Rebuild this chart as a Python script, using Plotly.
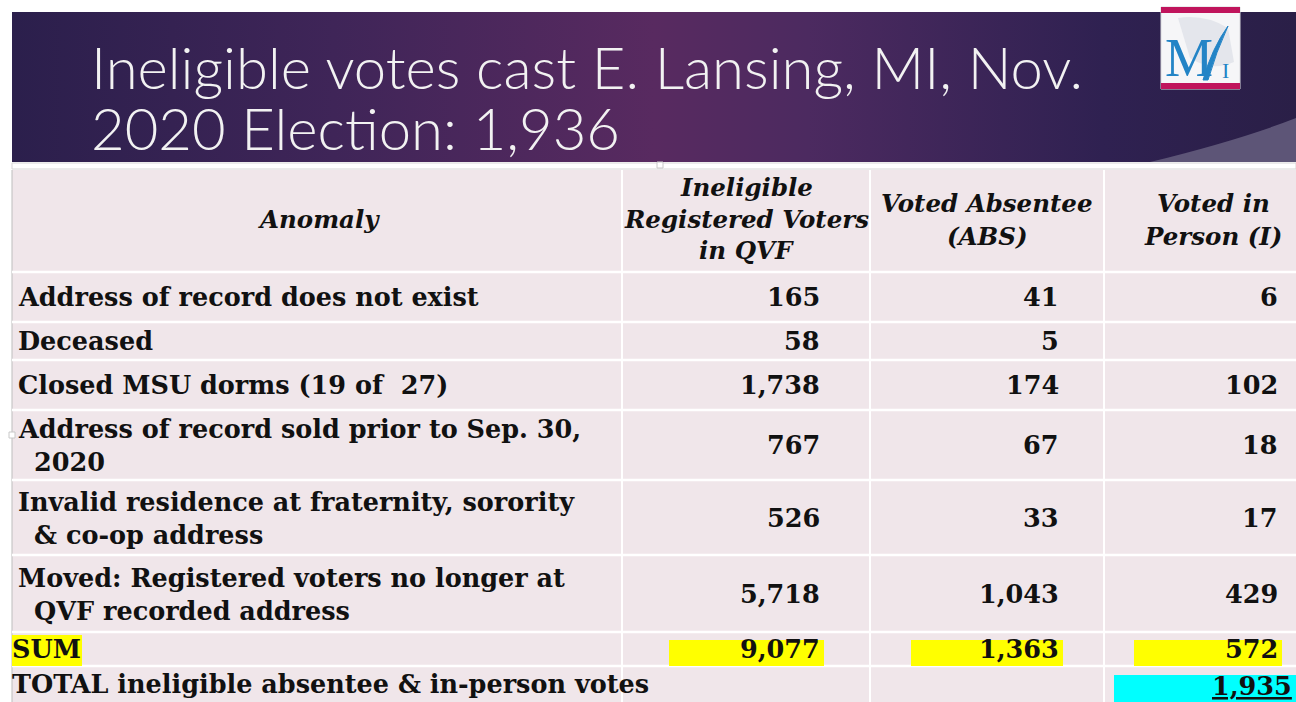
import plotly.graph_objects as go

# ---------------- data ----------------
title_lines = ["Ineligible votes cast E. Lansing, MI, Nov.", "2020 Election: 1,936"]
headers = [["Anomaly"], ["Ineligible", "Registered Voters", "in QVF"],
           ["Voted Absentee", "(ABS)"], ["Voted in", "Person (I)"]]
anomalies = [
    ["Address of record does not exist"],
    ["Deceased"],
    ["Closed MSU dorms (19 of  27)"],
    ["Address of record sold prior to Sep. 30,", "2020"],
    ["Invalid residence at fraternity, sorority", "& co-op address"],
    ["Moved: Registered voters no longer at", "QVF recorded address"],
]
qvf = [165, 58, 1738, 767, 526, 5718]
absentee = [41, 5, 174, 67, 33, 1043]
in_person = [6, None, 102, 18, 17, 429]
sum_label = "SUM"
sums = [9077, 1363, 572]
total_label = "TOTAL ineligible absentee & in-person votes"
total_value = 1935

# ---------------- layout constants ----------------
W, H = 1296, 702
col_edges = [12, 622, 870, 1104, 1310]
row_edges = [170, 272, 322, 360, 410, 480, 555, 632, 666, 710]
num_right = [822, 1061, 1280]
TABLE_BG = "#f0e6ea"
SERIF = "DejaVu Serif"
FS = 25.5

fig = go.Figure()
shapes = []
ann = []

# banner with gradient
fig.add_trace(go.Scatter(
    x=[12, W, W, 12, 12], y=[12, 12, 162, 162, 12], mode="lines",
    line=dict(width=0), fill="toself",
    fillgradient=dict(type="horizontal", colorscale=[
        [0.0, "#2b1f4c"], [0.25, "#3f2558"], [0.5, "#582a60"],
        [0.62, "#4c2a60"], [0.85, "#2f2151"], [1.0, "#2a1f47"]]),
    hoverinfo="skip", showlegend=False))
# light swoosh bottom right
shapes.append(dict(type="path", path="M 1150 162 Q 1240 140 1296 118 L 1296 162 Z",
                   fillcolor="#5d5577", line=dict(width=0), layer="above"))

for i, t in enumerate(title_lines):
    ann.append(dict(x=89, y=[66, 127][i], text=t, xanchor="left", yanchor="middle",
                    showarrow=False,
                    font=dict(family="Lato", size=58, color="#f2f2f2", weight=300)))

# logo
shapes.append(dict(type="rect", x0=1161, x1=1240, y0=7, y1=89, fillcolor="#f6f6f8",
                   line=dict(color="#d8d8dc", width=1)))
shapes.append(dict(type="path", path="M 1178 18 Q 1205 14 1228 28 L 1234 62 Q 1212 72 1190 58 Z",
                   fillcolor="#e4e6ec", line=dict(width=0)))
shapes.append(dict(type="rect", x0=1161, x1=1240, y0=7, y1=13, fillcolor="#c0145c", line=dict(width=0)))
shapes.append(dict(type="rect", x0=1161, x1=1240, y0=83, y1=89, fillcolor="#c0145c", line=dict(width=0)))
ann.append(dict(x=1189, y=58, text="M", showarrow=False, xanchor="center", yanchor="middle",
                font=dict(family="Liberation Serif", size=54, color="#2384c6")))
ann.append(dict(x=1225, y=70, text="I", showarrow=False, xanchor="center", yanchor="middle",
                font=dict(family="Liberation Serif", size=22, color="#2384c6")))
shapes.append(dict(type="path", path="M 1203 80 Q 1212 48 1228 26 Q 1216 52 1208 80 Z",
                   fillcolor="#2384c6", line=dict(color="#2384c6", width=1)))
fig.add_trace(go.Scatter(x=[1229], y=[22], mode="markers",
                         marker=dict(symbol="star", size=12, color="#2384c6"),
                         hoverinfo="skip", showlegend=False))

# separator under banner
shapes.append(dict(type="rect", x0=12, x1=W, y0=163, y1=169, fillcolor="#ffffff",
                   line=dict(color="#d6d6d6", width=1)))

# table background
shapes.append(dict(type="rect", x0=col_edges[0], x1=col_edges[-1], y0=row_edges[0], y1=row_edges[-1],
                   fillcolor=TABLE_BG, line=dict(width=0), layer="below"))
shapes.append(dict(type="line", x0=12, x1=12, y0=170, y1=702, line=dict(color="#bdbdbd", width=1)))
# grid lines
for x in col_edges[1:-1]:
    shapes.append(dict(type="line", x0=x, x1=x, y0=row_edges[0], y1=row_edges[-1],
                       line=dict(color="#ffffff", width=2)))
for y in row_edges[1:-1]:
    shapes.append(dict(type="line", x0=col_edges[0], x1=col_edges[-1], y0=y, y1=y,
                       line=dict(color="#ffffff", width=2.5)))
# small selection handles
for hx, hy in [(660, 165), (12, 435)]:
    shapes.append(dict(type="rect", x0=hx - 3, x1=hx + 3, y0=hy - 3, y1=hy + 3,
                       fillcolor="#ffffff", line=dict(color="#c8c8c8", width=1)))

# headers
hdr_font = dict(family=SERIF, size=24.5, color="#111111", weight="bold", style="italic")
head_y = {1: [219], 3: [187, 219, 250], 2: [203, 236]}
for c, lines in enumerate(headers):
    cx = (col_edges[c] + col_edges[c + 1]) / 2 if c < 3 else 1213
    if c == 0:
        cx = 319
    ys = head_y[len(lines)]
    for ln, y in zip(lines, ys):
        ann.append(dict(x=cx, y=y, text=ln, showarrow=False, xanchor="center", yanchor="middle",
                        font=hdr_font))

body_font = dict(family=SERIF, size=FS, color="#111111", weight="bold")
for r, lines in enumerate(anomalies):
    y0, y1 = row_edges[r + 1], row_edges[r + 2]
    cy = (y0 + y1) / 2
    if len(lines) == 1:
        ann.append(dict(x=16, y=cy, text=lines[0], showarrow=False, xanchor="left",
                        yanchor="middle", font=body_font))
    else:
        ann.append(dict(x=16, y=cy - 16, text=lines[0], showarrow=False, xanchor="left",
                        yanchor="middle", font=body_font))
        ann.append(dict(x=32, y=cy + 17, text=lines[1], showarrow=False, xanchor="left",
                        yanchor="middle", font=body_font))
    for c, series in enumerate([qvf, absentee, in_person]):
        v = series[r]
        if v is None:
            continue
        ann.append(dict(x=num_right[c], y=cy, text=f"{v:,}", showarrow=False, xanchor="right",
                        yanchor="middle", font=body_font))

# SUM row
sy0, sy1 = row_edges[7], row_edges[8]
scy = (sy0 + sy1) / 2
shapes.append(dict(type="rect", x0=12, x1=82, y0=sy0 + 3, y1=sy1, fillcolor="#ffff00", line=dict(width=0)))
ann.append(dict(x=10, y=scy, text=sum_label, showarrow=False, xanchor="left", yanchor="middle",
                font=body_font))
hl_left = [669, 911, 1134]
for c, v in enumerate(sums):
    shapes.append(dict(type="rect", x0=hl_left[c], x1=num_right[c] + 2, y0=sy0 + 8, y1=sy1,
                       fillcolor="#ffff00", line=dict(width=0)))
    ann.append(dict(x=num_right[c], y=scy, text=f"{v:,}", showarrow=False, xanchor="right",
                    yanchor="middle", font=body_font))

# TOTAL row
ann.append(dict(x=10, y=684, text=total_label, showarrow=False, xanchor="left", yanchor="middle",
                font=body_font))
shapes.append(dict(type="rect", x0=1114, x1=1310, y0=675, y1=710, fillcolor="#00ffff", line=dict(width=0)))
ann.append(dict(x=1294, y=686, text=f"<u>{total_value:,}</u>", showarrow=False, xanchor="right",
                yanchor="middle", font=body_font))

fig.update_layout(
    width=W, height=H, margin=dict(l=0, r=0, t=0, b=0),
    paper_bgcolor="#ffffff", plot_bgcolor="#ffffff",
    xaxis=dict(range=[0, W], visible=False, fixedrange=True),
    yaxis=dict(range=[H, 0], visible=False, fixedrange=True),
    shapes=shapes, annotations=ann, showlegend=False,
)
fig.write_html("out.html", config={"displayModeBar": False},
               post_script="document.body.style.margin='0px';"
                           "document.body.style.overflow='hidden';")
